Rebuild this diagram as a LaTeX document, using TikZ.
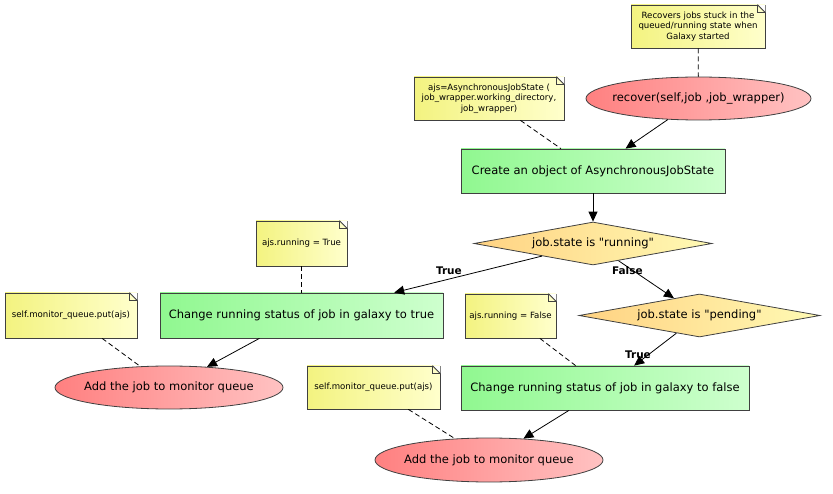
\documentclass[tikz,border=0pt]{standalone}
\usepackage{fontspec}
\setmainfont{DejaVu Sans}[Ligatures=TeXOff]
\usetikzlibrary{shapes.geometric,arrows.meta}

\definecolor{notel}{RGB}{243,243,128}
\definecolor{noter}{RGB}{255,255,204}
\definecolor{actl}{RGB}{144,248,144}
\definecolor{actr}{RGB}{206,255,206}
\definecolor{ucl}{RGB}{255,128,128}
\definecolor{ucr}{RGB}{255,194,194}
\definecolor{decl}{RGB}{255,210,130}
\definecolor{decr}{RGB}{255,250,180}

\tikzset{
  note/.style={draw=black!75, left color=notel, right color=noter, align=center,
    inner sep=0pt, font=\fontsize{8.6}{10.5}\selectfont},
  action/.style={draw=black!75, left color=actl, right color=actr, inner sep=0pt,
    font=\fontsize{11.5}{13}\selectfont},
  usecase/.style={ellipse, draw=black!75, left color=ucl, right color=ucr,
    inner xsep=-40pt, inner ysep=-8pt, font=\fontsize{11.5}{13}\selectfont},
  decision/.style={diamond, aspect=5.5, draw=black!75, left color=decl, right color=decr,
    inner sep=0pt, font=\fontsize{11.5}{13}\selectfont},
  branch/.style={font=\fontsize{10.5}{12}\selectfont\bfseries, inner sep=1pt},
  link/.style={dash pattern=on 5pt off 3pt},
}

\begin{document}
\begin{tikzpicture}[x=1pt,y=-1pt,line width=0.8pt,>={Triangle[length=10pt,width=9pt]}]
  \useasboundingbox (0,0) rectangle (833,494);

  \node (recnote)  at (698,26.5)  [note, minimum width=134, minimum height=43]
    {Recovers jobs stuck in the\\queued/running state when\\Galaxy started};
  \node (recover)  at (698.5,98.5) [usecase, minimum width=225, minimum height=43]
    {recover(self,job ,job\_wrapper)};
  \node (ajsnote)  at (489,98.5)  [note, minimum width=150, minimum height=43]
    {ajs=AsynchronousJobState (\\job\_wrapper.working\_directory,\\job\_wrapper)};
  \node (create)   at (593,171)   [action, minimum width=264, minimum height=44]
    {Create an object of AsynchronousJobState};
  \node (running)  at (593,243.5) [decision, minimum width=238, minimum height=43]
    {job.state is "running"};
  \node (pending)  at (699.5,315.5) [decision, minimum width=241, minimum height=43]
    {job.state is "pending"};
  \node (truenote) at (301.5,243.5) [note, minimum width=91, minimum height=45]
    {ajs.running = True};
  \node (truebox)  at (301.5,315.5) [action, minimum width=283, minimum height=45]
    {Change running status of job in galaxy to true};
  \node (leftqnote) at (71,315.5) [note, minimum width=132, minimum height=45]
    {self.monitor\_queue.put(ajs)};
  \node (leftadd)  at (169,387.5) [usecase, minimum width=228, minimum height=43]
    {Add the job to monitor queue};
  \node (falsenote) at (510.5,316) [note, minimum width=91, minimum height=44]
    {ajs.running = False};
  \node (falsebox) at (605,388)   [action, minimum width=288, minimum height=44]
    {Change running status of job in galaxy to false};
  \node (rightqnote) at (373.5,387.5) [note, minimum width=133, minimum height=43]
    {self.monitor\_queue.put(ajs)};
  \node (rightadd) at (489,460)   [usecase, minimum width=228, minimum height=44]
    {Add the job to monitor queue};

  % folded corners of the notes
  \foreach \n in {recnote,ajsnote,truenote,leftqnote,falsenote,rightqnote} {
    \fill[white] ([xshift=-8pt]\n.north east) -- (\n.north east)
      -- ([yshift=-8pt]\n.north east) -- cycle;
    \draw[black!75] ([xshift=-8pt]\n.north east) -- ([yshift=-8pt]\n.north east);
    \draw[black!75] ([xshift=-8pt]\n.north east) |- ([yshift=-8pt]\n.north east);
  }

  \draw[link] (recnote) -- (recover);
  \draw[link] (ajsnote) -- (create);
  \draw[link] (truenote) -- (truebox);
  \draw[link] (leftqnote) -- (leftadd);
  \draw[link] (falsenote) -- (falsebox);
  \draw[link] (rightqnote) -- (rightadd);

  \draw[->] (recover) -- (create);
  \draw[->] (create) -- (running);
  \draw[->] (running) -- node[branch, pos=0.63, above=3pt] {True} (truebox);
  \draw[->] (running) -- node[branch, pos=0.16, yshift=-4pt] {False} (pending);
  \draw[->] (pending) -- node[branch, pos=0.65, xshift=-11pt] {True} (falsebox);
  \draw[->] (truebox) -- (leftadd);
  \draw[->] (falsebox) -- (rightadd);
\end{tikzpicture}
\end{document}
